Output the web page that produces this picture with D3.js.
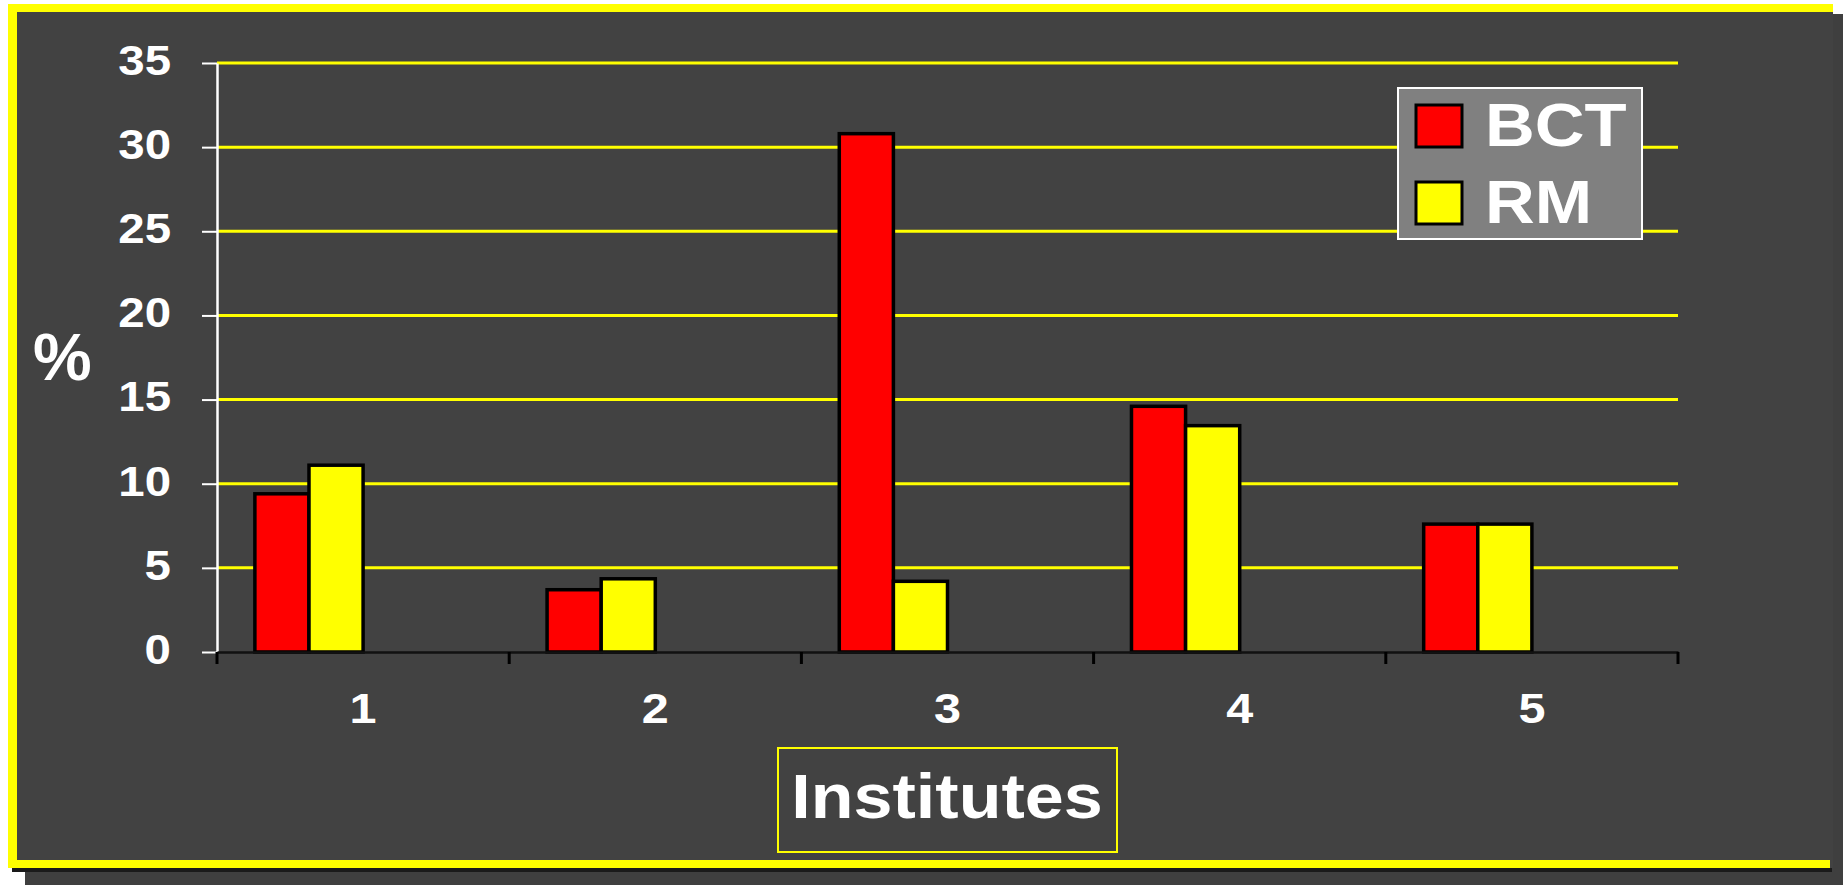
<!DOCTYPE html>
<html>
<head>
<meta charset="utf-8">
<script src="https://cdn.jsdelivr.net/npm/d3@7"></script>
<style>
  body { margin: 0; background: #ffffff; }
  #chart { width: 1843px; height: 885px; }
  text { font-family: "Liberation Sans", Arial, sans-serif; font-weight: bold; fill: #ffffff; }
</style>
</head>
<body>
<div id="chart"></div>
<script>
    /*DEFINE DATA SET*/
    const institutes = ["1", "2", "3", "4", "5"];
    const seriesNames = ["BCT", "RM"];
    const bctValues = [9.4, 3.7, 30.8, 14.6, 7.6];
    const rmValues = [11.1, 4.35, 4.2, 13.45, 7.6];
    const yTicks = [0, 5, 10, 15, 20, 25, 30, 35];

    const seriesValues = [bctValues, rmValues];

    /*
    SETTING UP THE SVG CANVAS
    */
    const width = 1843;
    const height = 885;
    const margin = {top: 63, left: 217, right: 165, bottom: 233};
    const bg = "#424242";
    const stretch = 1.13;   // the original lettering is a bit wider than Arial

    const svg = d3.select("#chart")
      .append("svg")
      .attr("width", width)
      .attr("height", height);

    /*FRAME WITH SHADOW*/
    svg.append("rect")
      .attr("x", 25).attr("y", 14)
      .attr("width", width - 25).attr("height", height - 14)
      .attr("fill", "#3f3f3f");
    svg.append("rect")
      .attr("x", 12).attr("y", 868)
      .attr("width", 1820).attr("height", 4)
      .attr("fill", "#1a1a1a");
    svg.append("rect")
      .attr("x", 8).attr("y", 4)
      .attr("width", 1825).attr("height", 864)
      .attr("fill", bg);
    // yellow border: top, left, bottom (no right edge in the original)
    svg.append("rect").attr("x", 8).attr("y", 4).attr("width", 1825).attr("height", 8).attr("fill", "#FFFF00");
    svg.append("rect").attr("x", 8).attr("y", 4).attr("width", 9).attr("height", 864).attr("fill", "#FFFF00");
    svg.append("rect").attr("x", 8).attr("y", 860).attr("width", 1822).attr("height", 8).attr("fill", "#FFFF00");

    /*DEFINE SCALES*/
    const x0 = d3.scaleBand()
      .domain(institutes)
      .range([margin.left, width - margin.right])
      .padding(0);

    // the source chart leaves room for 4 bars per group (2 of them empty)
    const x1 = d3.scaleBand()
      .domain(d3.range(4))
      .range([0, x0.bandwidth()])
      .paddingInner(0)
      .paddingOuter(0.7);

    const yScale = d3.scaleLinear()
      .domain([0, 35])
      .range([height - margin.bottom, margin.top]);

    const color = d3.scaleOrdinal()
      .domain(seriesNames)
      .range(["#FF0000", "#FFFF00"]);

    /*GRIDLINES*/
    svg.append("g")
      .selectAll("line")
      .data(yTicks.filter(d => d > 0))
      .join("line")
        .attr("x1", margin.left)
        .attr("x2", width - margin.right)
        .attr("y1", d => yScale(d))
        .attr("y2", d => yScale(d))
        .attr("stroke", "#FFFF00")
        .attr("stroke-width", 3);

    /*Y AXIS*/
    const yAxis = svg.append("g")
      .attr("transform", `translate(${margin.left},0)`)
      .call(d3.axisLeft(yScale).tickValues(yTicks).tickSize(15).tickSizeOuter(0).tickPadding(30));
    yAxis.select(".domain").attr("stroke", "#ffffff").attr("stroke-width", 2.5);
    yAxis.selectAll(".tick line").attr("stroke", "#ffffff").attr("stroke-width", 2);
    yAxis.selectAll(".tick text")
      .attr("fill", "#ffffff")
      .attr("font-size", 42)
      .attr("font-family", "Liberation Sans, Arial, sans-serif")
      .attr("font-weight", "bold")
      .attr("x", -46 / stretch)
      .attr("transform", `scale(${stretch},1)`)
      .attr("dy", "0.27em");

    /*DRAW THE BARS*/
    const groups = svg.append("g")
      .selectAll("g")
      .data(institutes)
      .join("g")
        .attr("transform", d => `translate(${x0(d)},0)`);

    groups.selectAll("rect")
      .data((d, i) => seriesNames.map((s, j) => ({series: s, idx: j, value: seriesValues[j][i]})))
      .join("rect")
        .attr("x", d => x1(d.idx))
        .attr("y", d => yScale(d.value))
        .attr("width", x1.bandwidth())
        .attr("height", d => yScale(0) - yScale(d.value))
        .attr("fill", d => color(d.series))
        .attr("stroke", "#000000")
        .attr("stroke-width", 3.5);

    /*X AXIS*/
    const xAxis = svg.append("g")
      .attr("transform", `translate(0,${height - margin.bottom})`)
      .call(d3.axisBottom(x0).tickSize(0).tickSizeOuter(0).tickPadding(40));
    xAxis.select(".domain").attr("stroke", "#111111").attr("stroke-width", 2.5);
    xAxis.selectAll(".tick text")
      .attr("fill", "#ffffff")
      .attr("font-size", 43)
      .attr("font-family", "Liberation Sans, Arial, sans-serif")
      .attr("font-weight", "bold")
      .attr("transform", `scale(${stretch},1)`);

    // group separator ticks
    xAxis.append("g")
      .selectAll("line")
      .data(d3.range(institutes.length + 1))
      .join("line")
        .attr("x1", i => x0.range()[0] + i * x0.step())
        .attr("x2", i => x0.range()[0] + i * x0.step())
        .attr("y1", 0)
        .attr("y2", 12)
        .attr("stroke", "#000000")
        .attr("stroke-width", 3);

    /*ADDING AXIS LABELS */
    svg.append("text")
      .attr("transform", "translate(33,380)")
      .attr("font-size", 66)
      .text("%");

    svg.append("rect")
      .attr("x", 778).attr("y", 748)
      .attr("width", 339).attr("height", 104)
      .attr("fill", "none")
      .attr("stroke", "#FFFF00")
      .attr("stroke-width", 2);

    svg.append("text")
      .attr("transform", `translate(947,818) scale(${stretch},1)`)
      .attr("text-anchor", "middle")
      .attr("font-size", 62)
      .text("Institutes");

    /*LEGEND*/
    const legend = svg.append("g")
      .attr("transform", "translate(1398,88)");

    legend.append("rect")
      .attr("width", 244)
      .attr("height", 151)
      .attr("fill", "#808080")
      .attr("stroke", "#ffffff")
      .attr("stroke-width", 2);

    const item = legend.selectAll(".item")
      .data(seriesNames)
      .join("g")
        .attr("class", "item")
        .attr("transform", (d, i) => `translate(0,${i * 77})`);

    item.append("rect")
      .attr("x", 18).attr("y", 17)
      .attr("width", 46).attr("height", 42)
      .attr("fill", d => color(d))
      .attr("stroke", "#000000")
      .attr("stroke-width", 3);

    item.append("text")
      .attr("transform", `translate(87,58) scale(${stretch},1)`)
      .attr("font-size", 61)
      .text(d => d);
</script>
</body>
</html>
